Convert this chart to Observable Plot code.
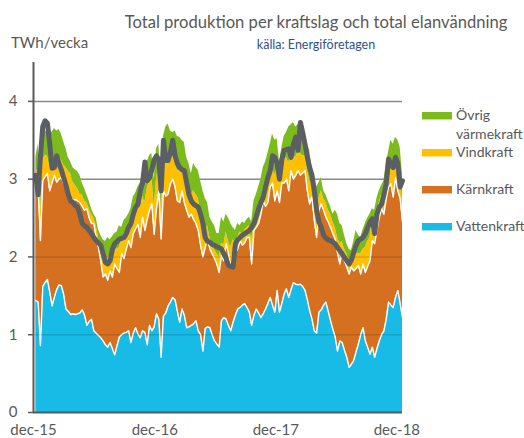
<!DOCTYPE html>
<html><head><meta charset="utf-8">
<script src="https://cdn.jsdelivr.net/npm/d3@7"></script>
<script src="https://cdn.jsdelivr.net/npm/@observablehq/plot@0.6"></script>
<style>
html,body{margin:0;padding:0;background:#fff;}
#wrap{position:relative;width:524px;height:438px;font-family:Lato,"Open Sans",sans-serif;color:#595959;overflow:hidden;}
#wrap svg{position:absolute;left:0;top:0;}
.t{position:absolute;white-space:nowrap;line-height:1;}
.sw{position:absolute;left:422px;width:30px;height:7px;}
</style></head><body><div id="wrap"></div>
<script>
// ---- data (TWh per week), weekly from week 50 2015 ----
const startWeek = "2015-12-08";
const vattenkraft = [1.44,1.42,0.86,1.62,1.67,1.71,1.55,1.37,1.48,1.58,
 1.64,1.63,1.52,1.33,1.30,1.26,1.27,1.26,1.27,1.28,
 1.32,1.25,1.12,1.17,1.20,1.05,1.02,0.99,0.96,0.92,
 0.87,0.84,0.90,0.82,0.74,0.86,0.97,1.00,1.02,1.03,
 1.05,0.90,1.02,1.09,1.01,0.96,1.05,1.03,0.87,1.12,
 1.05,1.10,1.27,1.20,0.71,1.24,1.28,1.37,1.42,1.48,
 1.45,1.30,1.16,1.33,1.25,1.09,1.10,1.12,1.14,1.18,
 1.05,1.00,0.79,1.08,1.10,1.09,1.00,0.92,0.88,0.84,
 1.18,1.22,1.20,1.12,1.05,1.16,1.25,1.33,1.35,1.38,
 1.40,1.35,1.29,1.12,1.25,1.33,1.28,1.22,1.27,1.33,
 1.40,1.48,1.38,1.29,1.57,1.29,1.40,1.52,1.59,1.48,
 1.58,1.67,1.65,1.64,1.65,1.62,1.57,1.45,1.31,1.20,
 1.05,1.02,1.29,1.32,1.38,1.42,1.30,1.18,1.07,0.97,
 0.79,0.92,0.90,0.80,0.71,0.58,0.62,0.67,0.78,0.88,
 1.00,1.09,0.92,0.84,0.75,0.84,0.71,0.82,0.92,1.00,
 1.05,1.20,1.42,1.38,1.35,1.48,1.57,1.40,1.22];
const karnkraft = [1.50,1.48,1.35,1.36,1.36,1.36,1.30,1.58,1.57,1.38,
 1.36,1.39,1.42,1.61,1.55,1.51,1.45,1.48,1.45,1.42,
 1.33,1.35,1.50,1.33,1.23,1.38,1.23,1.13,0.99,0.82,
 0.91,0.86,0.92,0.92,1.17,0.99,0.83,1.04,0.96,1.07,
 1.16,1.22,1.28,1.27,1.41,1.29,1.46,1.31,1.61,1.48,
 1.63,1.19,1.35,1.65,1.52,1.61,1.50,1.44,1.52,1.52,
 1.45,1.42,1.54,1.52,1.45,1.51,1.41,1.43,1.34,1.25,
 1.29,1.15,1.21,1.04,1.15,1.01,1.04,1.06,1.03,0.96,
 0.84,0.73,0.97,0.93,0.82,0.92,0.80,0.77,0.86,0.77,
 0.78,0.90,0.96,0.79,1.09,1.05,1.15,1.33,1.45,1.32,
 1.30,1.42,1.57,1.43,1.28,1.41,1.55,1.43,1.41,1.37,
 1.53,1.33,1.40,1.47,1.40,1.46,1.54,1.40,1.37,1.57,
 1.42,1.23,1.31,1.36,1.22,1.09,1.15,1.20,1.23,1.26,
 1.26,0.99,1.18,1.15,1.16,1.20,1.25,1.15,1.07,1.01,
 0.78,0.82,0.88,1.04,1.20,1.37,1.46,1.52,1.59,1.62,
 1.50,1.55,1.48,1.56,1.42,1.54,1.28,1.35,1.23];
const vindkraft = [0.11,0.25,0.34,0.27,0.27,0.23,0.30,0.27,0.20,0.29,
 0.28,0.23,0.24,0.21,0.25,0.30,0.24,0.18,0.16,0.11,
 0.15,0.12,0.08,0.12,0.12,0.07,0.15,0.13,0.15,0.21,
 0.20,0.29,0.20,0.31,0.21,0.25,0.32,0.18,0.32,0.22,
 0.17,0.28,0.25,0.24,0.26,0.37,0.27,0.36,0.40,0.38,
 0.37,0.36,0.38,0.35,0.42,0.35,0.47,0.49,0.31,0.30,
 0.32,0.38,0.45,0.25,0.40,0.35,0.34,0.25,0.37,0.37,
 0.41,0.45,0.45,0.18,0.15,0.15,0.13,0.12,0.13,0.20,
 0.16,0.20,0.15,0.15,0.25,0.14,0.12,0.15,0.11,0.15,
 0.16,0.13,0.15,0.29,0.14,0.17,0.19,0.17,0.13,0.25,
 0.30,0.20,0.20,0.33,0.30,0.24,0.20,0.30,0.28,0.35,
 0.24,0.30,0.23,0.24,0.28,0.22,0.19,0.26,0.30,0.18,
 0.28,0.30,0.15,0.17,0.15,0.19,0.15,0.17,0.15,0.15,
 0.20,0.26,0.12,0.15,0.17,0.17,0.13,0.15,0.20,0.15,
 0.26,0.19,0.32,0.32,0.30,0.27,0.23,0.21,0.19,0.18,
 0.17,0.20,0.17,0.26,0.33,0.18,0.30,0.30,0.25];
const ovrigVarmekraft = [0.23,0.30,0.30,0.30,0.32,0.30,0.47,0.38,0.40,0.37,
 0.36,0.33,0.30,0.24,0.18,0.15,0.19,0.20,0.22,0.24,
 0.15,0.16,0.10,0.10,0.07,0.05,0.10,0.10,0.18,0.27,
 0.22,0.26,0.20,0.21,0.18,0.22,0.28,0.16,0.17,0.18,
 0.17,0.22,0.22,0.22,0.22,0.33,0.30,0.35,0.34,0.32,
 0.28,0.35,0.39,0.25,0.30,0.35,0.42,0.41,0.37,0.30,
 0.40,0.45,0.39,0.40,0.37,0.33,0.35,0.27,0.35,0.35,
 0.36,0.38,0.40,0.45,0.30,0.26,0.28,0.30,0.26,0.30,
 0.33,0.30,0.23,0.30,0.31,0.16,0.17,0.18,0.08,0.15,
 0.09,0.10,0.11,0.25,0.24,0.25,0.28,0.28,0.30,0.32,
 0.33,0.35,0.43,0.45,0.37,0.28,0.25,0.30,0.32,0.47,
 0.35,0.43,0.39,0.35,0.40,0.37,0.24,0.34,0.39,0.20,
 0.30,0.35,0.20,0.17,0.10,0.10,0.12,0.10,0.10,0.22,
 0.30,0.26,0.20,0.18,0.13,0.15,0.08,0.23,0.29,0.24,
 0.21,0.25,0.31,0.30,0.30,0.14,0.20,0.20,0.15,0.12,
 0.26,0.25,0.28,0.30,0.35,0.34,0.35,0.36,0.35];
const elanvandning = [3.05,2.80,3.30,3.68,3.75,3.72,3.45,3.14,3.15,3.30,
 3.20,3.12,3.02,2.92,2.80,2.72,2.70,2.66,2.64,2.55,
 2.43,2.40,2.38,2.34,2.30,2.25,2.21,2.18,2.15,2.04,
 1.93,1.91,1.95,2.10,2.17,2.20,2.23,2.24,2.25,2.30,
 2.38,2.43,2.55,2.64,2.68,2.85,2.95,3.22,2.98,3.02,
 3.12,3.25,3.30,3.25,2.85,3.50,3.24,3.24,3.35,3.50,
 3.30,3.20,3.15,3.12,3.11,2.95,2.80,2.72,2.68,2.66,
 2.64,2.55,2.43,2.25,2.20,2.19,2.16,2.15,2.13,2.12,
 2.10,2.04,1.98,1.89,1.88,1.87,2.17,2.22,2.25,2.28,
 2.30,2.32,2.34,2.38,2.43,2.52,2.62,2.70,2.77,2.90,
 3.02,3.11,3.30,3.28,3.20,3.00,3.25,3.37,3.38,3.39,
 3.28,3.45,3.54,3.37,3.73,3.60,3.45,3.28,3.15,3.05,
 2.85,2.60,2.45,2.38,2.28,2.24,2.22,2.21,2.19,2.17,
 2.12,2.08,2.04,1.99,1.95,1.91,1.96,2.06,2.15,2.21,
 2.23,2.25,2.30,2.38,2.45,2.49,2.30,2.55,2.64,2.68,
 2.80,2.94,3.26,3.18,3.15,3.28,3.20,2.90,2.98];
const stackOrder = ["Vattenkraft","Kärnkraft","Vindkraft","Övrig värmekraft"];
const seriesColors = ["#17BBE6","#D4701F","#FFC000","#7CBB1C"];
const tickDates = ["2015-12-01","2016-12-01","2017-12-01","2018-12-01"];
const tickLabels = ["dec-15","dec-16","dec-17","dec-18"];
const yTicks = [0,1,2,3,4];
const yMax = 4.5;

// ---- build tables ----
const t0 = new Date(startWeek + "T00:00:00Z");
const dates = vattenkraft.map((_, i) => new Date(t0.getTime() + i * 7 * 864e5));
const seriesValues = [vattenkraft, karnkraft, vindkraft, ovrigVarmekraft];
const long = [];
stackOrder.forEach((s, k) => seriesValues[k].forEach((v, i) => long.push({date: dates[i], series: s, value: v})));
const rows = dates.map((d, i) => ({date: d, v: vattenkraft[i], k: karnkraft[i], el: elanvandning[i]}));
const tDates = tickDates.map(s => new Date(s + "T00:00:00Z"));
const labelMap = new Map(tDates.map((d, i) => [+d, tickLabels[i]]));
const xStart = tDates[0];

const chart = Plot.plot({
  width: 524, height: 438,
  marginLeft: 33, marginRight: 122, marginTop: 62, marginBottom: 26,
  style: {fontFamily: "Lato, 'Open Sans', sans-serif", fontSize: "15px", color: "#595959", background: "transparent"},
  x: {type: "utc", domain: [xStart, dates[dates.length - 1]], axis: null},
  y: {domain: [0, yMax], axis: null},
  color: {domain: stackOrder, range: seriesColors},
  marks: [
    Plot.ruleY(yTicks.filter(t => t >= 3), {stroke: "#8a8a8a", strokeWidth: 1.5}),
    Plot.areaY(long, {x: "date", y: "value", fill: "series", order: stackOrder}),
    Plot.lineY(rows, {x: "date", y: "v", stroke: "white", strokeWidth: 1.4}),
    Plot.lineY(rows, {x: "date", y: d => d.v + d.k, stroke: "white", strokeWidth: 1.4}),
    Plot.ruleY(yTicks.filter(t => t > 0 && t < 3), {stroke: "#000", strokeOpacity: 0.13, strokeWidth: 1.5}),
    Plot.lineY(rows, {x: "date", y: "el", stroke: "#5B5E62", strokeWidth: 5, strokeLinejoin: "round", strokeLinecap: "round"}),
    Plot.ruleY([0], {stroke: "#595959", strokeWidth: 2}),
    Plot.ruleX([xStart], {y1: 0, y2: yMax, stroke: "#595959", strokeWidth: 2}),
    Plot.axisY(yTicks, {anchor: "left", tickSize: 5, tickPadding: 11, tickFormat: d => String(d), stroke: "#595959", strokeWidth: 1.5, fill: "#595959", fontSize: 15, label: null}),
    Plot.axisX(tDates, {anchor: "bottom", tickSize: 0, tickPadding: 12, tickFormat: d => labelMap.get(+d), fill: "#595959", fontSize: 15, label: null})
  ]
});

const wrap = document.getElementById("wrap");
wrap.appendChild(chart);

function addText(txt, css) {
  const d = document.createElement("div");
  d.className = "t";
  d.textContent = txt;
  Object.assign(d.style, css);
  wrap.appendChild(d);
  return d;
}
addText("Total produktion per kraftslag och total elanvändning", {left: "316px", top: "14px", transform: "translateX(-50%)", fontSize: "16.6px"});
addText("källa: Energiföretagen", {left: "316px", top: "39px", transform: "translateX(-50%)", fontSize: "12.5px", color: "#2F528F"});
addText("TWh/vecka", {left: "11px", top: "35px", fontSize: "15px"});

const legendNames = ["Övrig", "Vindkraft", "Kärnkraft", "Vattenkraft"];
const legendColors = [seriesColors[3], seriesColors[2], seriesColors[1], seriesColors[0]];
const legendY = [116, 153, 190, 227];
legendNames.forEach((n, i) => {
  const s = document.createElement("div");
  s.className = "sw";
  s.style.top = (legendY[i] - 4) + "px";
  s.style.background = legendColors[i];
  s.style.borderBottom = "1.5px solid " + d3.interpolateRgb(legendColors[i], "#fff")(0.55);
  wrap.appendChild(s);
  addText(n, {left: "456px", top: (legendY[i] - 8) + "px", fontSize: "14px"});
});
addText("värmekraft", {left: "456px", top: "127px", fontSize: "14px"});
</script></body></html>
